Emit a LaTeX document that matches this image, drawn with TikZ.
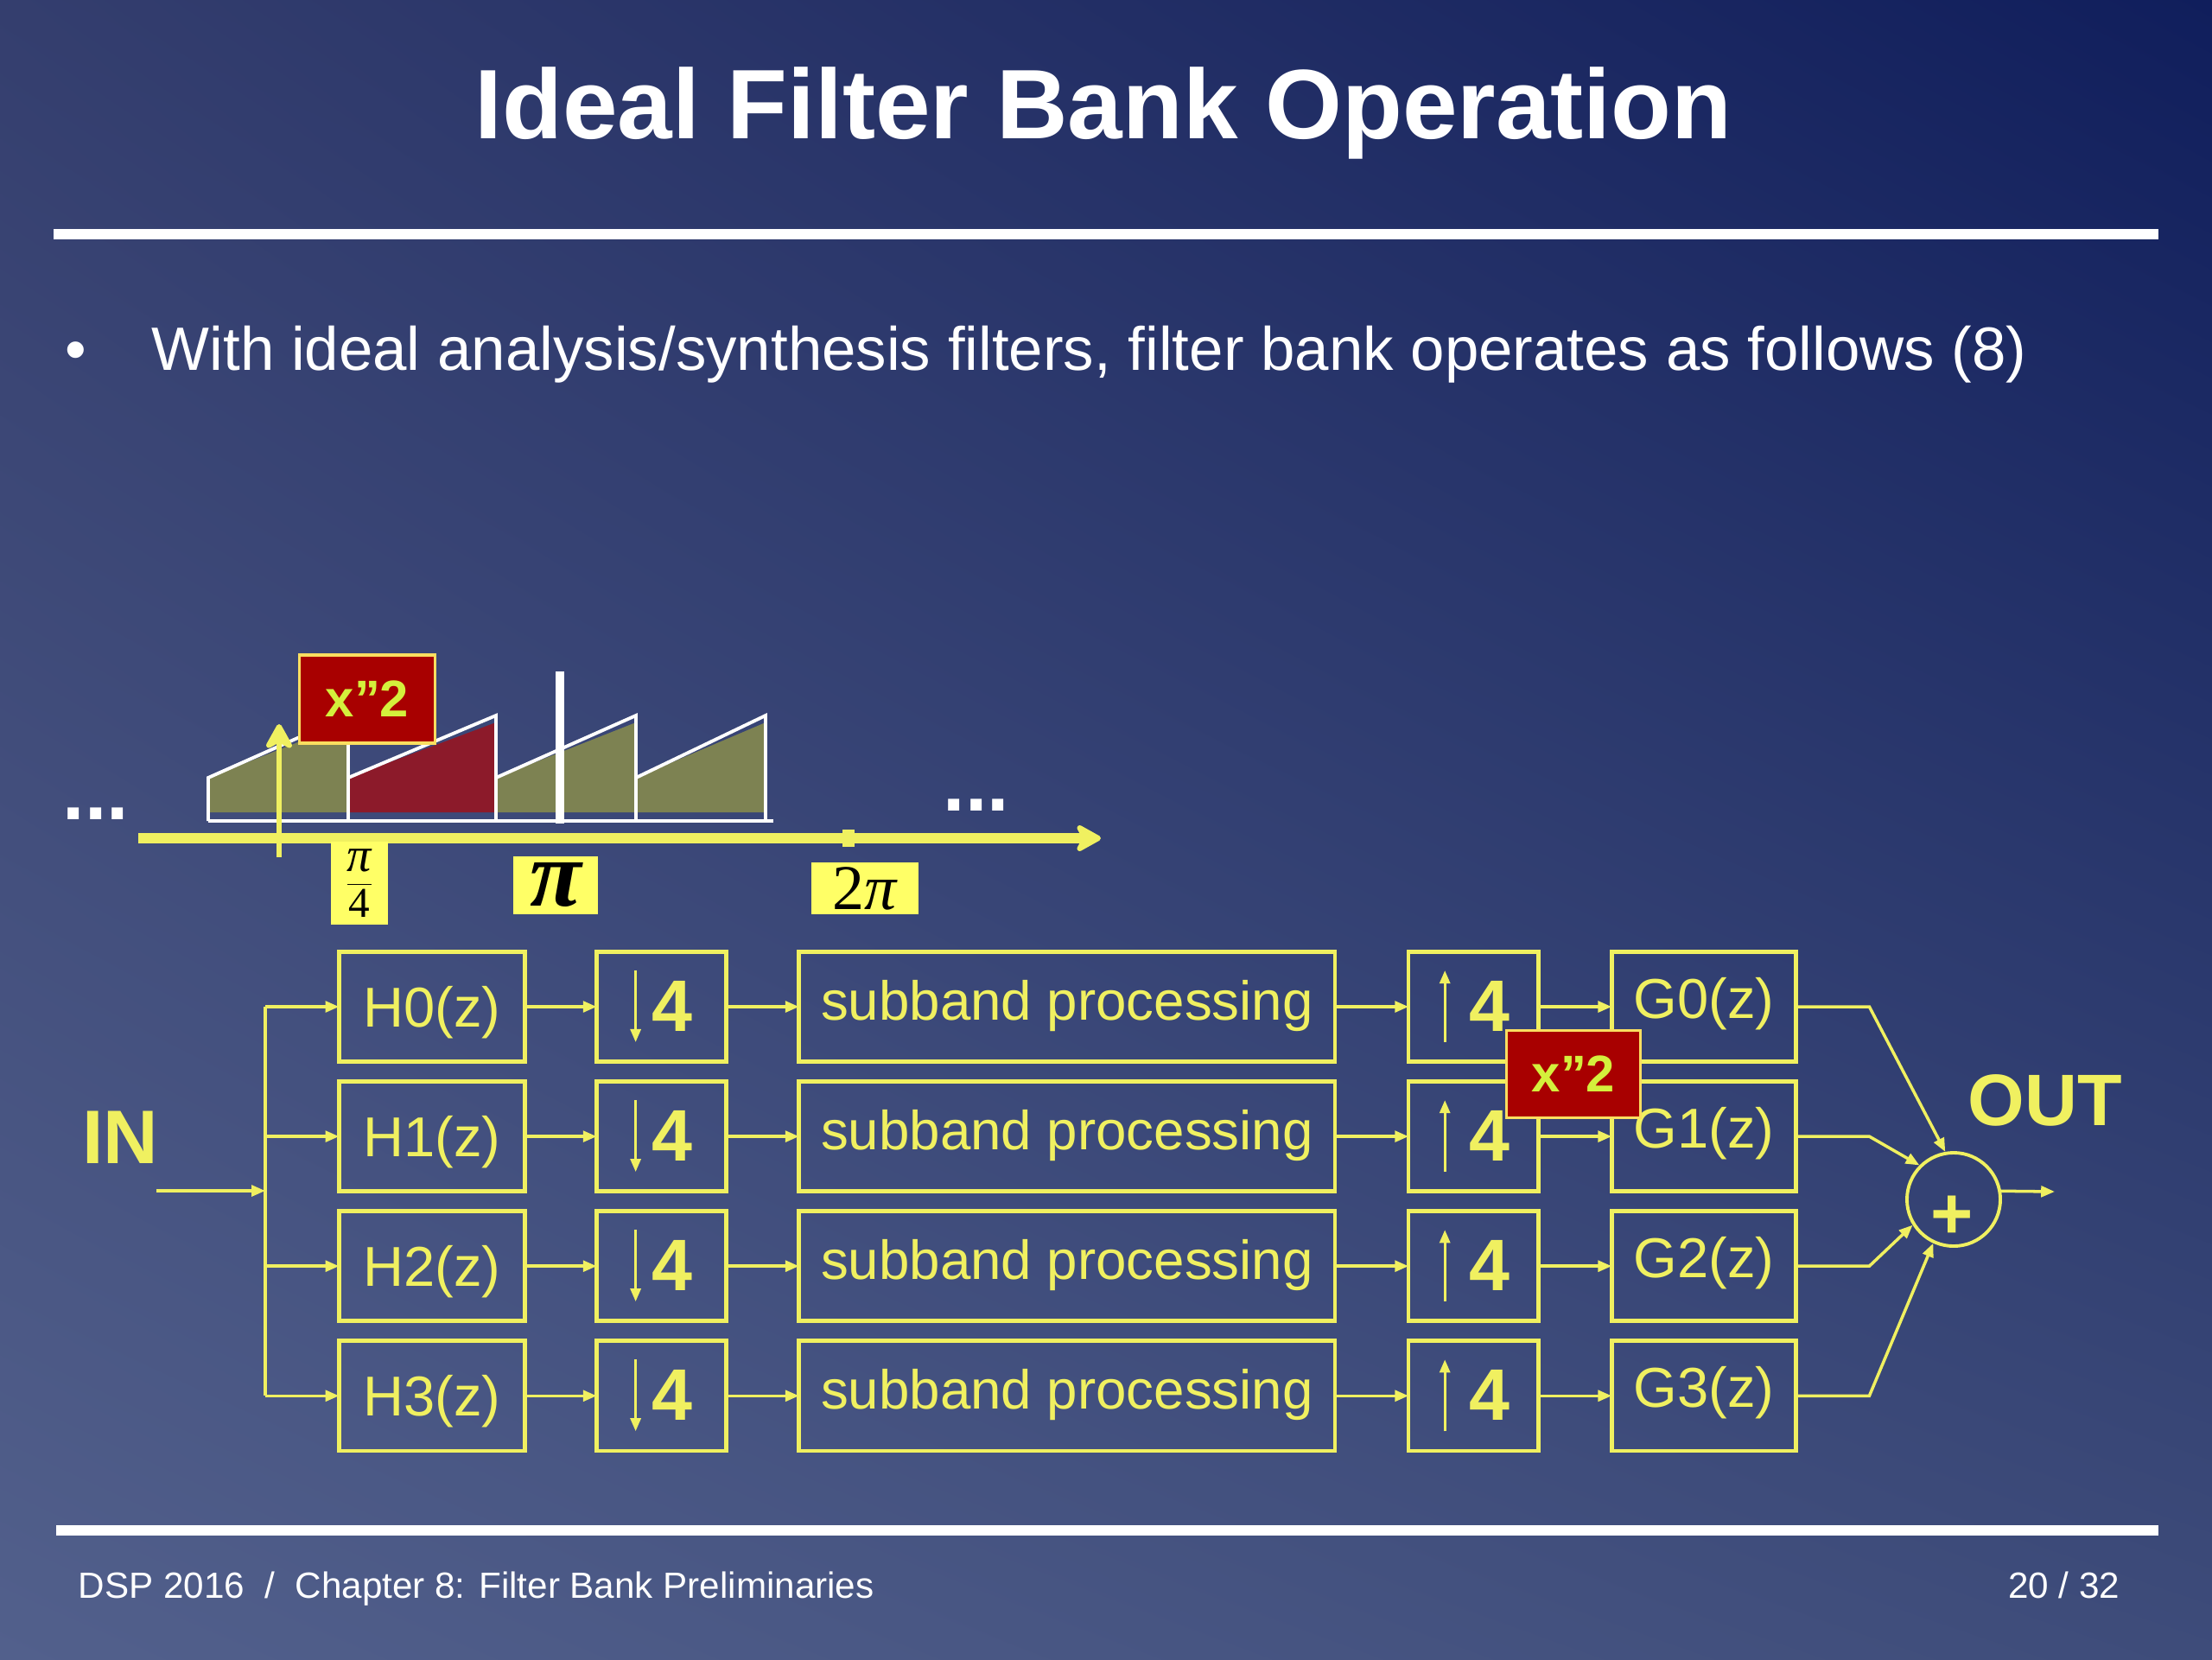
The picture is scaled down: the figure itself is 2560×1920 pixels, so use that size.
\documentclass[tikz,border=0pt]{standalone}
\usepackage{fontspec}
\setmainfont{Liberation Sans}
\newfontfamily\timesfont{Liberation Serif}
\usetikzlibrary{arrows.meta,positioning,shadings}
\definecolor{bgtl}{RGB}{52,62,110}
\definecolor{bgtr}{RGB}{16,30,92}
\definecolor{bgbl}{RGB}{82,96,140}
\definecolor{bgbr}{RGB}{62,76,122}
\definecolor{fbyellow}{RGB}{240,240,96}
\definecolor{lblyellow}{RGB}{255,255,102}
\definecolor{boxred}{RGB}{168,0,0}
\definecolor{redrim}{RGB}{250,222,96}
\definecolor{redtext}{RGB}{212,240,60}
\definecolor{bandolive}{RGB}{125,130,82}
\definecolor{bandred}{RGB}{140,26,42}

\begin{document}
\begin{tikzpicture}[x=0.01cm,y=-0.01cm,
  fbox/.style={draw=fbyellow,line width=1.3pt,text=fbyellow,minimum height=1.27cm,outer sep=0pt,
               font=\fontsize{18.5}{22}\selectfont,text height=13.2pt,text depth=0pt,inner sep=0pt},
  ratebox/.style={fbox,minimum width=1.5cm,font=\fontsize{24}{28}\selectfont\bfseries,text height=16pt},
  sbbox/.style={fbox,minimum width=6.2cm,font=\fontsize{18.1}{22}\selectfont},
  arr/.style={-{Triangle[length=4.5pt,width=3.6pt]},line width=1pt,color=fbyellow},
  wire/.style={line width=1pt,color=fbyellow},
  thinarr/.style={-{Triangle[length=4.3pt,width=3.4pt]},line width=0.9pt,color=fbyellow},
  lblbox/.style={fill=lblyellow,text=black,inner sep=0pt},
  redbox/.style={fill=boxred,draw=redrim,line width=1pt,text=redtext,inner sep=0pt,
                 font=\fontsize{17}{20}\selectfont\bfseries},
  bandline/.style={white,line width=1.1pt},
  bigarr/.style={-{Stealth[length=10pt,width=11pt,inset=3pt,round]},color=fbyellow},
  slidetext/.style={text=white,inner sep=0pt}
]
% slide background and rules
\shade[upper left=bgtl,upper right=bgtr,lower left=bgbl,lower right=bgbr] (0,0) rectangle (2560,1920);
\node[slidetext,font=\fontsize{32.5}{38}\selectfont\bfseries] (title) at (1277,131) {Ideal Filter Bank Operation};
\draw[white,line width=3.4pt] (62,271) -- (2498,271);
\node[slidetext,anchor=base,font=\fontsize{20}{24}\selectfont] (dot) at (88,428) {•};
\node[slidetext,anchor=base west,font=\fontsize{20.15}{24}\selectfont] (bullet) at (175,428)
  {With ideal analysis/synthesis filters, filter bank operates as follows (8)};
\draw[white,line width=3.4pt] (65,1771) -- (2498,1771);
\node[slidetext,anchor=base west,font=\fontsize{12}{14}\selectfont] (foot) at (90,1849)
  {DSP 2016\ \ /\ \ Chapter 8: Filter Bank Preliminaries};
\node[slidetext,anchor=base east,font=\fontsize{12}{14}\selectfont] (page) at (2454,1849) {20 / 32};

% spectrum
\fill[bandolive] (241,940) -- (241,900) -- (403,836) -- (403,940) -- cycle;
\fill[bandred] (403,940) -- (403,900) -- (574,836) -- (574,940) -- cycle;
\fill[bandolive] (574,940) -- (574,900) -- (736,836) -- (736,940) -- cycle;
\fill[bandolive] (736,940) -- (736,900) -- (886,836) -- (886,940) -- cycle;
\draw[bandline] (241,950) -- (241,900) -- (403,828) -- (403,950);
\draw[bandline] (403,900) -- (574,828) -- (574,950);
\draw[bandline] (574,900) -- (736,828) -- (736,950);
\draw[bandline] (736,900) -- (886,828) -- (886,950);
\draw[bandline] (241,950) -- (895,950);
\draw[white,line width=2.8pt] (648,777) -- (648,953);
\coordinate (axbeg) at (160,970);
\coordinate (axend) at (1274,970);
\draw[bigarr,line width=3.4pt] (axbeg) -- (axend);
\fill[fbyellow] (975,960) rectangle (989,980);
\coordinate (dcbeg) at (323,992);
\coordinate (dcend) at (323,838);
\draw[bigarr,line width=1.8pt] (dcbeg) -- (dcend);
\node[slidetext,anchor=base west,font=\fontsize{26}{30}\selectfont\bfseries] (ldots) at (72,948) {...};
\node[slidetext,anchor=base west,font=\fontsize{26}{30}\selectfont\bfseries] (rdots) at (1091,938) {...};
\node[lblbox,minimum width=0.66cm,minimum height=0.95cm] (quarter) at (416,1022)
  {$\displaystyle\frac{\hbox{\fontsize{16}{18}\selectfont\timesfont\itshape π}}{\hbox{\fontsize{14}{16}\selectfont\timesfont 4}}$};
\node[lblbox,minimum width=0.98cm,minimum height=0.67cm,font=\fontsize{31}{34}\selectfont\timesfont\bfseries\itshape] (pi) at (643,1024) {π};
\node[lblbox,minimum width=1.23cm,minimum height=0.6cm,font=\fontsize{21}{24}\selectfont\timesfont] (twopi) at (1001,1028) {2\textit{π}};
\node[redbox,minimum width=1.57cm,minimum height=1.02cm] (sq1) at (425,809) {x”2};

% filter bank
\node[fbox,minimum width=2.15cm] (h0) at (500,1165) {H0(z)};
\node[fbox,minimum width=2.15cm,below=0.23cm of h0] (h1) {H1(z)};
\node[fbox,minimum width=2.15cm,below=0.23cm of h1] (h2) {H2(z)};
\node[fbox,minimum width=2.15cm,below=0.23cm of h2] (h3) {H3(z)};
\node[ratebox,right=0.83cm of h0] (d0) {\hspace*{0.24cm}4};
\node[ratebox,right=0.83cm of h1] (d1) {\hspace*{0.24cm}4};
\node[ratebox,right=0.83cm of h2] (d2) {\hspace*{0.24cm}4};
\node[ratebox,right=0.83cm of h3] (d3) {\hspace*{0.24cm}4};
\node[sbbox,right=0.84cm of d0] (s0) {\raisebox{2.3pt}{subband processing}};
\node[sbbox,right=0.84cm of d1] (s1) {\raisebox{2.3pt}{subband processing}};
\node[sbbox,right=0.84cm of d2] (s2) {\raisebox{2.3pt}{subband processing}};
\node[sbbox,right=0.84cm of d3] (s3) {\raisebox{2.3pt}{subband processing}};
\node[ratebox,right=0.85cm of s0] (u0) {\hspace*{0.38cm}4};
\node[ratebox,right=0.85cm of s1] (u1) {\hspace*{0.38cm}4};
\node[ratebox,right=0.85cm of s2] (u2) {\hspace*{0.38cm}4};
\node[ratebox,right=0.85cm of s3] (u3) {\hspace*{0.38cm}4};
\node[fbox,minimum width=2.13cm,right=0.85cm of u0] (g0) {\raisebox{2.8pt}{G0(z)}};
\node[fbox,minimum width=2.13cm,right=0.85cm of u1] (g1) {\raisebox{2.8pt}{G1(z)}};
\node[fbox,minimum width=2.13cm,right=0.85cm of u2] (g2) {\raisebox{2.8pt}{G2(z)}};
\node[fbox,minimum width=2.13cm,right=0.85cm of u3] (g3) {\raisebox{2.8pt}{G3(z)}};
\node[circle,draw=fbyellow,line width=1.1pt,minimum size=1.08cm,inner sep=0pt] (sum) at (2261,1388) {};
\node[text=fbyellow,font=\fontsize{24}{28}\selectfont\bfseries] (plus) at (2259,1409) {+};
\node[text=fbyellow,font=\fontsize{25}{30}\selectfont\bfseries] (in) at (139,1316) {IN};
\node[text=fbyellow,font=\fontsize{24}{28}\selectfont\bfseries] (out) at (2367,1273) {OUT};

% rate change arrows inside the boxes
\draw[thinarr] ([xshift=-0.3cm,yshift=0.42cm]d0.center) -- ([xshift=-0.3cm,yshift=-0.41cm]d0.center);
\draw[thinarr] ([xshift=-0.3cm,yshift=0.42cm]d1.center) -- ([xshift=-0.3cm,yshift=-0.41cm]d1.center);
\draw[thinarr] ([xshift=-0.3cm,yshift=0.42cm]d2.center) -- ([xshift=-0.3cm,yshift=-0.41cm]d2.center);
\draw[thinarr] ([xshift=-0.3cm,yshift=0.42cm]d3.center) -- ([xshift=-0.3cm,yshift=-0.41cm]d3.center);
\draw[thinarr] ([xshift=-0.33cm,yshift=-0.41cm]u0.center) -- ([xshift=-0.33cm,yshift=0.42cm]u0.center);
\draw[thinarr] ([xshift=-0.33cm,yshift=-0.41cm]u1.center) -- ([xshift=-0.33cm,yshift=0.42cm]u1.center);
\draw[thinarr] ([xshift=-0.33cm,yshift=-0.41cm]u2.center) -- ([xshift=-0.33cm,yshift=0.42cm]u2.center);
\draw[thinarr] ([xshift=-0.33cm,yshift=-0.41cm]u3.center) -- ([xshift=-0.33cm,yshift=0.42cm]u3.center);

% connectors
\coordinate (inbeg) at (181,1378);
\coordinate (split) at (307,1378);
\coordinate (outend) at (2378,1379);
\draw[arr] (inbeg) -- (split);
\draw[wire] (split |- h0.west) -- (split |- h3.west);
\draw[arr] (split |- h0.west) -- (h0); \draw[arr] (split |- h1.west) -- (h1);
\draw[arr] (split |- h2.west) -- (h2); \draw[arr] (split |- h3.west) -- (h3);
\draw[arr] (h0) -- (d0); \draw[arr] (h1) -- (d1); \draw[arr] (h2) -- (d2); \draw[arr] (h3) -- (d3);
\draw[arr] (d0) -- (s0); \draw[arr] (d1) -- (s1); \draw[arr] (d2) -- (s2); \draw[arr] (d3) -- (s3);
\draw[arr] (s0) -- (u0); \draw[arr] (s1) -- (u1); \draw[arr] (s2) -- (u2); \draw[arr] (s3) -- (u3);
\draw[arr] (u0) -- (g0); \draw[arr] (u1) -- (g1); \draw[arr] (u2) -- (g2); \draw[arr] (u3) -- (g3);
\draw[arr] (g0.east) -- ++(85,0) -- (sum.100);
\draw[arr] (g1.east) -- ++(85,0) -- (sum.135);
\draw[arr] (g2.east) -- ++(85,0) -- (sum.212);
\draw[arr] (g3.east) -- ++(85,0) -- (sum.245);
\draw[arr] (sum.10) -- (outend);
% red box sits on top of the wires
\node[redbox,minimum width=1.55cm,minimum height=1.01cm] (sq2) at (1821,1243) {x”2};
\end{tikzpicture}
\end{document}
